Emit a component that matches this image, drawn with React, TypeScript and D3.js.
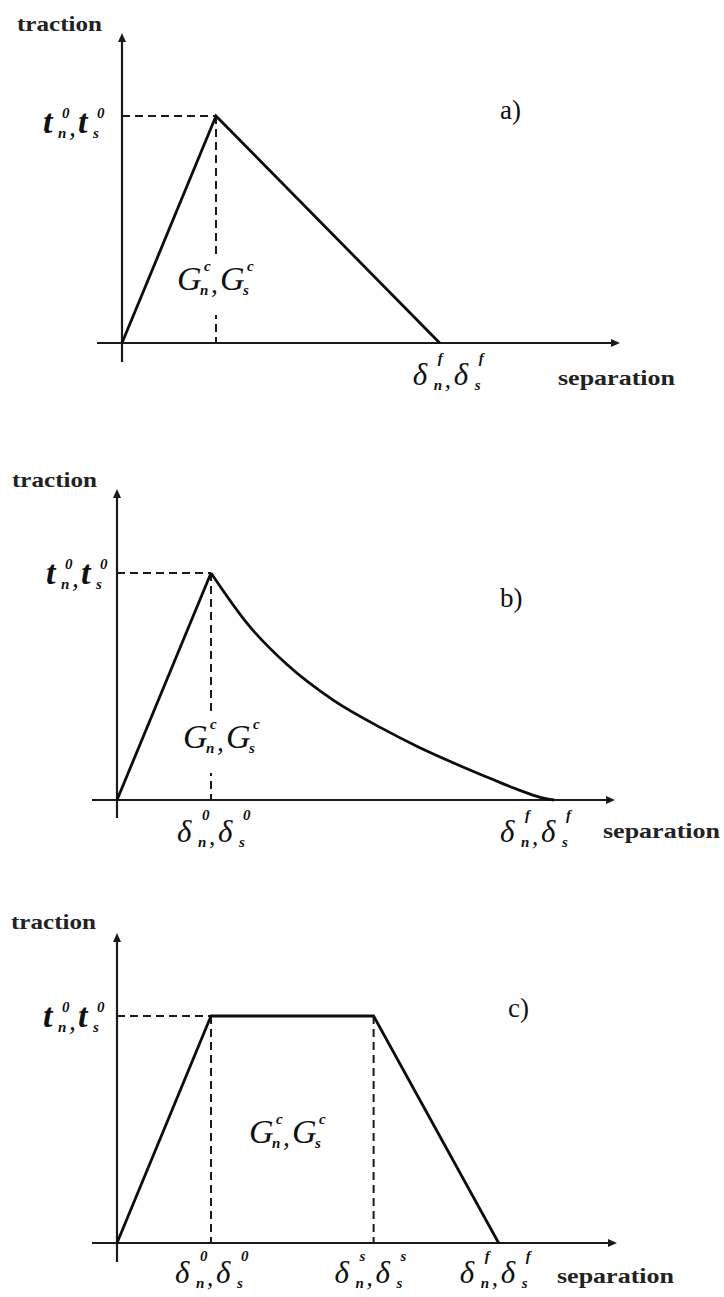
import React from "react";
import * as d3 from "d3";

// Traction–separation laws for cohesive elements.
// Separation is expressed in multiples of the onset displacement δ0,
// traction as a fraction of the peak traction t0.

const panelNames = ["a)", "b)", "c)"];

// a) bilinear law
const bilinearSep = [0, 1, 3.38];
const bilinearTrac = [0, 1, 0];

// b) linear rise followed by exponential softening
const expRiseSep = [0, 1];
const expRiseTrac = [0, 1];
const expDecaySep = [1, 1.4, 1.8, 2.3, 2.8, 3.2, 3.6, 4.0, 4.3, 4.5, 4.65];
const expDecayTrac = [1, 0.77, 0.6, 0.44, 0.32, 0.235, 0.16, 0.09, 0.04, 0.012, 0];

// c) trapezoidal law
const trapSep = [0, 1, 2.73, 4.06];
const trapTrac = [0, 1, 1, 0];

// Characteristic separations labelled below each axis
const labelSepA = [3.38];
const labelSepB = [1, 4.65];
const labelSepC = [1, 2.73, 4.06];
const labelSupA = ["f"];
const labelSupB = ["0", "f"];
const labelSupC = ["0", "s", "f"];

const W = 724;
const H = 1297;
const SERIF = "'Liberation Serif', 'Times New Roman', serif";

type Layout = {
  ox: number; oy: number; unit: number; peakY: number;
  axisLeft: number; axisRight: number; axisTop: number; axisBottom: number;
  tracX: number; tracY: number; sepX: number; sepY: number;
  nameX: number; nameY: number;
  tX: number; tY: number;
  gX: number; gY: number; gHalo: boolean;
  dY: number; dOffsets: number[];
};

const layouts: Layout[] = [
  {
    ox: 122, oy: 343, unit: 94, peakY: 116,
    axisLeft: 97, axisRight: 620, axisTop: 33, axisBottom: 362,
    tracX: 17, tracY: 31, sepX: 558, sepY: 385,
    nameX: 500, nameY: 119,
    tX: 43, tY: 133,
    gX: 177, gY: 290, gHalo: true,
    dY: 385, dOffsets: [-27],
  },
  {
    ox: 117, oy: 800, unit: 94, peakY: 573,
    axisLeft: 92, axisRight: 615, axisTop: 489, axisBottom: 818,
    tracX: 12, tracY: 487, sepX: 603, sepY: 838,
    nameX: 500, nameY: 607,
    tX: 46, tY: 584,
    gX: 183, gY: 748, gHalo: true,
    dY: 842, dOffsets: [-34, -54],
  },
  {
    ox: 117, oy: 1243, unit: 94, peakY: 1016,
    axisLeft: 92, axisRight: 617, axisTop: 933, axisBottom: 1262,
    tracX: 11, tracY: 929, sepX: 557, sepY: 1283,
    nameX: 508, nameY: 1017,
    tX: 43, tY: 1027,
    gX: 249, gY: 1143, gHalo: false,
    dY: 1283, dOffsets: [-36, -39, -39],
  },
];

type Pt = [number, number];
const zip = (xs: number[], ys: number[]): Pt[] => xs.map((x, i) => [x, ys[i]]);

// A pair of symbols such as t_n^0, t_s^0
function PairLabel(props: {
  x: number; y: number; base: string; w: number; size: number;
  sup: string; supDy: number; weight?: string;
}) {
  const { x, y, base, w, size, sup, supDy, weight } = props;
  const sSize = 15;
  const x2 = x + w + 19;
  const common = { fontFamily: SERIF, fontStyle: "italic", fill: "#111" } as const;
  return (
    <g>
      <text x={x} y={y} fontSize={size} fontWeight={weight || "normal"} {...common}>{base}</text>
      <text x={x + w + 3} y={y + supDy} fontSize={sSize} fontWeight="bold" {...common}>{sup}</text>
      <text x={x + w - 1} y={y + 5} fontSize={sSize} fontWeight="bold" {...common}>n</text>
      <text x={x + w + 10} y={y + 3} fontSize={size * 0.8} {...common}>,</text>
      <text x={x2} y={y} fontSize={size} fontWeight={weight || "normal"} {...common}>{base}</text>
      <text x={x2 + w + 3} y={y + supDy} fontSize={sSize} fontWeight="bold" {...common}>{sup}</text>
      <text x={x2 + w - 1} y={y + 5} fontSize={sSize} fontWeight="bold" {...common}>s</text>
    </g>
  );
}

function Axes({ L }: { L: Layout }) {
  const ah = 9;
  const aw = 4;
  return (
    <g stroke="#1a1a1a" fill="#1a1a1a">
      <line x1={L.axisLeft} y1={L.oy} x2={L.axisRight - ah + 1} y2={L.oy} strokeWidth={2.2} />
      <line x1={L.ox} y1={L.axisBottom} x2={L.ox} y2={L.axisTop + ah - 1} strokeWidth={2.2} />
      <path
        d={`M${L.axisRight},${L.oy} L${L.axisRight - ah},${L.oy - aw} L${L.axisRight - ah},${L.oy + aw} Z`}
        stroke="none"
      />
      <path
        d={`M${L.ox},${L.axisTop} L${L.ox - aw},${L.axisTop + ah} L${L.ox + aw},${L.axisTop + ah} Z`}
        stroke="none"
      />
    </g>
  );
}

function Panel({ idx }: { idx: number }) {
  const L = layouts[idx];
  const x = d3.scaleLinear().domain([0, 1]).range([L.ox, L.ox + L.unit]);
  const y = d3.scaleLinear().domain([0, 1]).range([L.oy, L.peakY]);

  const straight = d3.line<Pt>().x((d) => x(d[0])).y((d) => y(d[1])).curve(d3.curveLinear);
  const smooth = d3.line<Pt>().x((d) => x(d[0])).y((d) => y(d[1])).curve(d3.curveMonotoneX);

  let paths: string[] = [];
  let dashX: number[] = [];
  let labelSep: number[] = [];
  let labelSup: string[] = [];
  if (idx === 0) {
    paths = [straight(zip(bilinearSep, bilinearTrac)) || ""];
    dashX = [bilinearSep[1]];
    labelSep = labelSepA;
    labelSup = labelSupA;
  } else if (idx === 1) {
    paths = [
      straight(zip(expRiseSep, expRiseTrac)) || "",
      smooth(zip(expDecaySep, expDecayTrac)) || "",
    ];
    dashX = [expRiseSep[1]];
    labelSep = labelSepB;
    labelSup = labelSupB;
  } else {
    paths = [straight(zip(trapSep, trapTrac)) || ""];
    dashX = [trapSep[1], trapSep[2]];
    labelSep = labelSepC;
    labelSup = labelSupC;
  }

  const dash = "8,5";
  return (
    <g>
      {/* guide lines to the peak traction */}
      <g stroke="#1a1a1a" strokeWidth={2} strokeDasharray={dash} fill="none">
        <line x1={L.ox} y1={y(1)} x2={x(dashX[0])} y2={y(1)} />
        {dashX.map((v, i) => (
          <line key={i} x1={x(v)} y1={y(1)} x2={x(v)} y2={y(0)} />
        ))}
      </g>
      <Axes L={L} />
      {paths.map((p, i) => (
        <path key={i} d={p} fill="none" stroke="#0d0d0d" strokeWidth={2.8} strokeLinejoin="miter" />
      ))}

      {/* area label */}
      {L.gHalo && <rect x={L.gX - 4} y={L.gY - 33} width={96} height={58} fill="#fff" />}
      <PairLabel x={L.gX} y={L.gY} base="G" w={24} size={34} sup="c" supDy={-19} />

      {/* peak traction label */}
      <PairLabel x={L.tX} y={L.tY} base="t" w={16} size={34} sup="0" supDy={-15} weight="bold" />

      {/* characteristic separations */}
      {labelSep.map((v, i) => (
        <PairLabel
          key={i}
          x={x(v) + L.dOffsets[i]}
          y={L.dY}
          base="δ"
          w={22}
          size={31}
          sup={labelSup[i]}
          supDy={-22}
        />
      ))}

      <text
        x={L.tracX}
        y={L.tracY}
        fontFamily={SERIF}
        fontWeight="bold"
        fontSize={22}
        fill="#222"
        textLength={85}
        lengthAdjust="spacingAndGlyphs"
      >
        traction
      </text>
      <text
        x={L.sepX}
        y={L.sepY}
        fontFamily={SERIF}
        fontWeight="bold"
        fontSize={21}
        fill="#222"
        textLength={117}
        lengthAdjust="spacingAndGlyphs"
      >
        separation
      </text>
      <text x={L.nameX} y={L.nameY} fontFamily={SERIF} fontSize={27} fill="#111">
        {panelNames[idx]}
      </text>
    </g>
  );
}

export default function App() {
  return (
    <svg
      width={W}
      height={H}
      viewBox={`0 0 ${W} ${H}`}
      style={{ position: "absolute", left: 0, top: 0, background: "#fff" }}
    >
      <rect width={W} height={H} fill="#fff" />
      {panelNames.map((_, i) => (
        <Panel key={i} idx={i} />
      ))}
    </svg>
  );
}
